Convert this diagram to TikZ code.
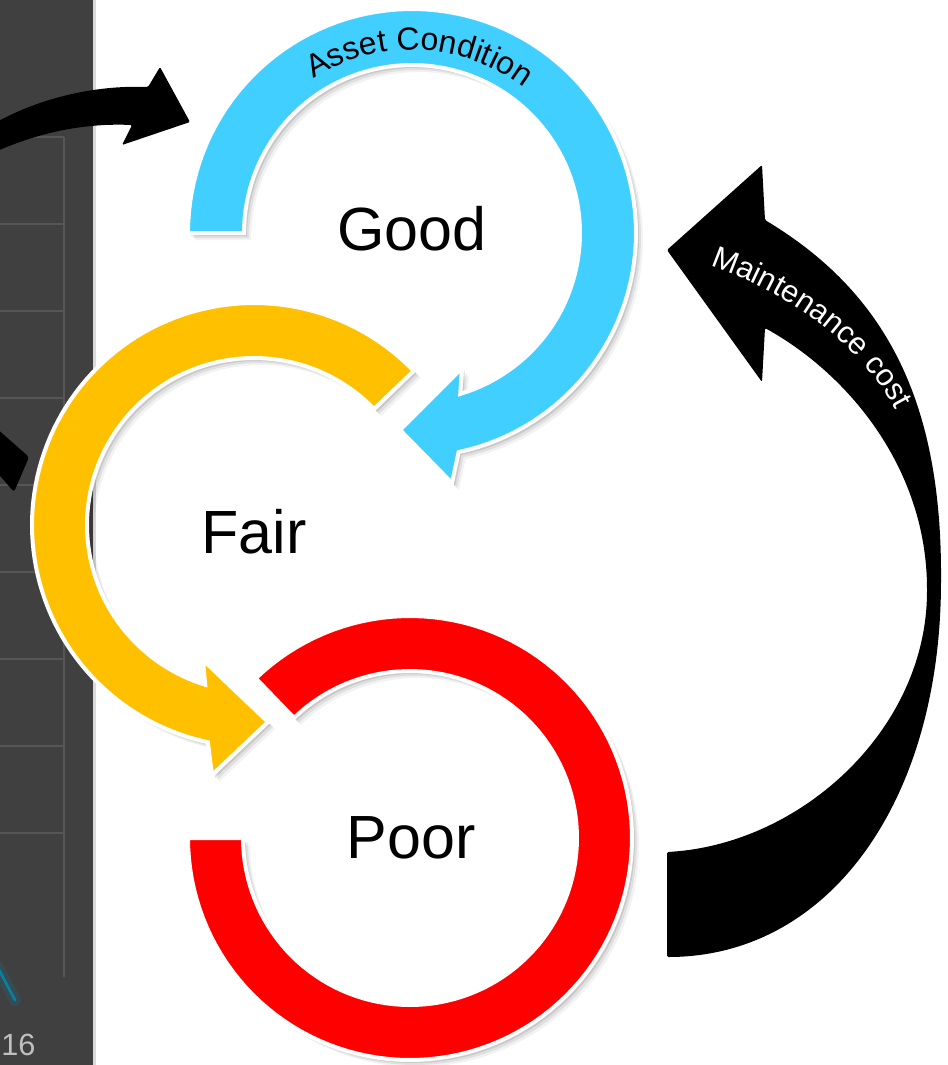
\documentclass[tikz,border=0pt]{standalone}
\usepackage{fontspec}
\setmainfont{Liberation Sans}
\usetikzlibrary{decorations.text}
\definecolor{panel}{HTML}{404040}
\definecolor{gridc}{HTML}{565656}
\definecolor{stripc}{HTML}{DADADA}
\definecolor{teal1}{HTML}{0B7FA0}
\definecolor{blueC}{HTML}{41CFFF}
\definecolor{yellowC}{HTML}{FFC000}
\definecolor{redC}{HTML}{FF0000}
\definecolor{numc}{HTML}{BFBFBF}
\newcommand{\bluepath}{plot[domain=180:438,samples=100] ({412+224*cos(\x)},{233+224*sin(\x)}) -- (452,483) -- (400,430) -- (462,368) -- plot[domain=433.3:180,samples=100] ({412+168*cos(\x)},{233+168*sin(\x)}) -- cycle}
\newcommand{\yellowpath}{plot[domain=316:102,samples=100] ({254+222*cos(\x)},{525+222*sin(\x)}) -- (212,775) -- (268,722) -- (203,660) -- plot[domain=107:316,samples=100] ({254+167*cos(\x)},{525+167*sin(\x)}) -- cycle}
\newcommand{\redpath}{plot[domain=226:540,samples=120] ({410+222*cos(\x)},{838+222*sin(\x)}) -- plot[domain=540:226,samples=120] ({410+167*cos(\x)},{838+167*sin(\x)}) -- cycle}
\newcommand{\shadowed}[2]{%
  \foreach \s/\o in {7/0.05,5/0.07,3/0.10}{\fill[black,opacity=\o,shift={(\s,\s)}] #2;}
  \filldraw[fill=#1,draw=white,line width=3pt] #2;}
\tikzset{
  bigword/.style={font=\fontsize{45.75}{50}\selectfont, anchor=base, inner sep=0pt},
}
\begin{document}
\begin{tikzpicture}[x=0.75pt,y=-0.75pt]
\useasboundingbox (0,0) rectangle (948,1065);
\clip (0,0) rectangle (948,1065);
\fill[white] (0,0) rectangle (948,1065);
% left panel
\fill[panel] (0,0) rectangle (93,1065);
\fill[stripc] (93,0) rectangle (96,1065);
\foreach \yy in {137,224,...,833} \draw[gridc, line width=0.8pt] (0,\yy) -- (64,\yy);
\draw[gridc, line width=0.8pt] (64,137) -- (64,977);
\draw[teal1, opacity=0.2, line width=9pt, line cap=round] (-3,966) -- (15,1000);
\draw[teal1, line width=2pt, line cap=round] (-3,966) -- (15,1000);
\node[font=\fontsize{23}{26}\selectfont, text=numc, anchor=base west, inner sep=0pt] (num) at (1,1055) {16};
% black arrows at left
\fill[black, rounded corners=1pt] (-5,123) .. controls (40,98) and (95,85) .. (148,87) -- (160,67) -- (190,122) -- (122,145) -- (132,125) .. controls (85,123) and (40,132) .. (-5,152) -- cycle;
\fill[black, rounded corners=2pt] (-5,427) -- (29,457) -- (14,492) -- (-5,470) -- cycle;
% rings
\shadowed{blueC}{\bluepath}
\shadowed{yellowC}{\yellowpath}
\shadowed{redC}{\redpath}
% maintenance arrow
\fill[black, rounded corners=1pt] (765,220) .. controls (885,292) and (942,400) .. (941,580) .. controls (941,800) and (830,957) .. (667,957) -- (667,852) .. controls (800,845) and (927,730) .. (927,590) .. controls (927,470) and (850,375) .. (765,328) -- (762,382) -- (667,250) -- (762,165) -- cycle;
\path[decorate, decoration={text along path, text align=center, text={|\color{white}\fontsize{23}{27}\selectfont|Maintenance cost}}] (700,262) .. controls (790,292) and (865,345) .. (900,420);
\path[decorate, decoration={text along path, text align=center, text={|\fontsize{24}{28}\selectfont|Asset Condition}}] plot[domain=230:315,samples=60] ({412+183*cos(\x)},{233+183*sin(\x)});
% labels
\node[bigword] (good) at (412,250) {Good};
\node[bigword] (fair) at (254,553) {Fair};
\node[bigword] (poor) at (411,858) {Poor};
\end{tikzpicture}
\end{document}
